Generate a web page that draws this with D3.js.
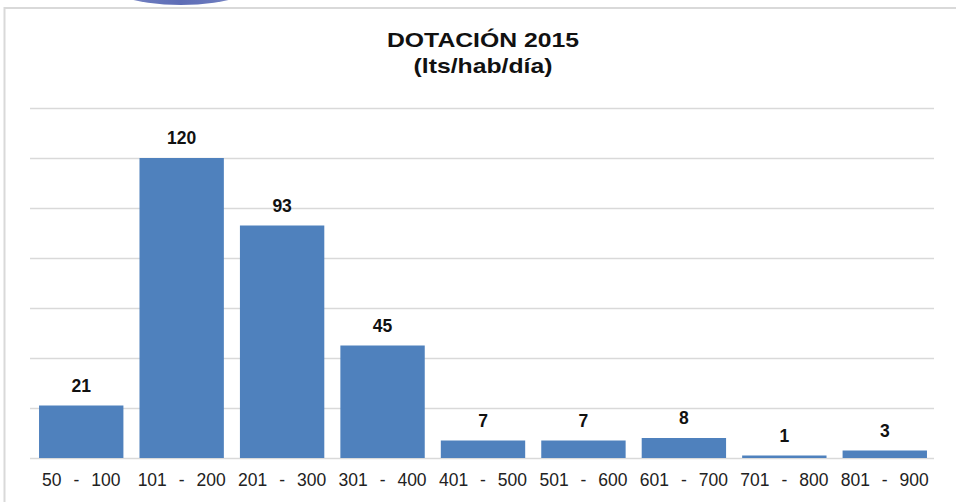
<!DOCTYPE html>
<html><head><meta charset="utf-8">
<script src="https://cdn.jsdelivr.net/npm/d3@7"></script>
<style>
html,body{margin:0;padding:0;background:#fff;}
svg{display:block;font-family:"Liberation Sans",Arial,sans-serif;}
</style></head>
<body>
<svg id="c" width="956" height="502"></svg>
<script>
const categories = ["50  -  100","101  -  200","201  -  300","301  -  400","401  -  500","501  -  600","601  -  700","701  -  800","801  -  900"];
const values = [21,120,93,45,7,7,8,1,3];
const yTicks = [0,20,40,60,80,100,120,140];
const titleLines = ["DOTACIÓN 2015","(lts/hab/día)"];

(function(){
const svg = d3.select("#c");
const W = 956, H = 502;

const defs = svg.append("defs");
const grad = defs.append("linearGradient").attr("id","eg").attr("x1",0).attr("x2",1).attr("y1",0).attr("y2",0);
grad.append("stop").attr("offset","0%").attr("stop-color","#aab3dc");
grad.append("stop").attr("offset","30%").attr("stop-color","#6a79bd");
grad.append("stop").attr("offset","50%").attr("stop-color","#5e6db6");
grad.append("stop").attr("offset","70%").attr("stop-color","#6a79bd");
grad.append("stop").attr("offset","100%").attr("stop-color","#aab3dc");
svg.append("ellipse").attr("cx",181).attr("cy",-25).attr("rx",86).attr("ry",30).attr("fill","url(#eg)");

svg.append("line").attr("x1",4).attr("x2",W).attr("y1",8).attr("y2",8).attr("stroke","#d9d9d9").attr("stroke-width",2);
svg.append("line").attr("x1",4.5).attr("x2",4.5).attr("y1",7).attr("y2",H).attr("stroke","#d9d9d9").attr("stroke-width",2);

const pLeft = 30, pRight = 934, pTop = 108, pBottom = 458;
const x = d3.scaleBand().domain(categories).range([pLeft+1,pRight+1]).paddingInner(0.16).paddingOuter(0.08);
const y = d3.scaleLinear().domain([0,140]).range([pBottom,pTop]);

svg.append("g").selectAll("line").data(yTicks).join("line")
  .attr("x1",pLeft).attr("x2",pRight)
  .attr("y1",d=>Math.round(y(d))+0.5).attr("y2",d=>Math.round(y(d))+0.5)
  .attr("stroke","#d9d9d9").attr("stroke-width",1.5);

svg.append("g").selectAll("rect").data(values).join("rect")
  .attr("x",(d,i)=>x(categories[i]))
  .attr("width",x.bandwidth())
  .attr("y",d=>y(d))
  .attr("height",d=>y(0)-y(d))
  .attr("fill","#4f81bd");

svg.append("g").selectAll("text").data(values).join("text")
  .attr("x",(d,i)=>x(categories[i])+x.bandwidth()/2)
  .attr("y",d=>y(d)-14)
  .attr("text-anchor","middle")
  .attr("font-size",17.5).attr("font-weight","bold").attr("fill","#111")
  .text(d=>d);

const xAxis = d3.axisBottom(x).tickSize(0).tickPadding(0);
const gx = svg.append("g").attr("transform",`translate(0,${pBottom})`).call(xAxis);
gx.select(".domain").remove();
gx.selectAll("text").attr("y",28).attr("dy",0)
  .attr("font-size",17.5).attr("fill","#222")
  .attr("font-family","'Liberation Sans',Arial,sans-serif")
  .attr("word-spacing","1.1px")
  .style("white-space","pre");

const tg = svg.append("g").attr("transform","translate(483,0) scale(1.27,1)");
tg.append("text").attr("x",0).attr("y",47).attr("text-anchor","middle")
  .attr("font-size",19.5).attr("font-weight","bold").attr("fill","#111").text(titleLines[0]);
tg.append("text").attr("x",0).attr("y",73).attr("text-anchor","middle")
  .attr("font-size",19.5).attr("font-weight","bold").attr("fill","#111").text(titleLines[1]);
})();
</script>
</body></html>
